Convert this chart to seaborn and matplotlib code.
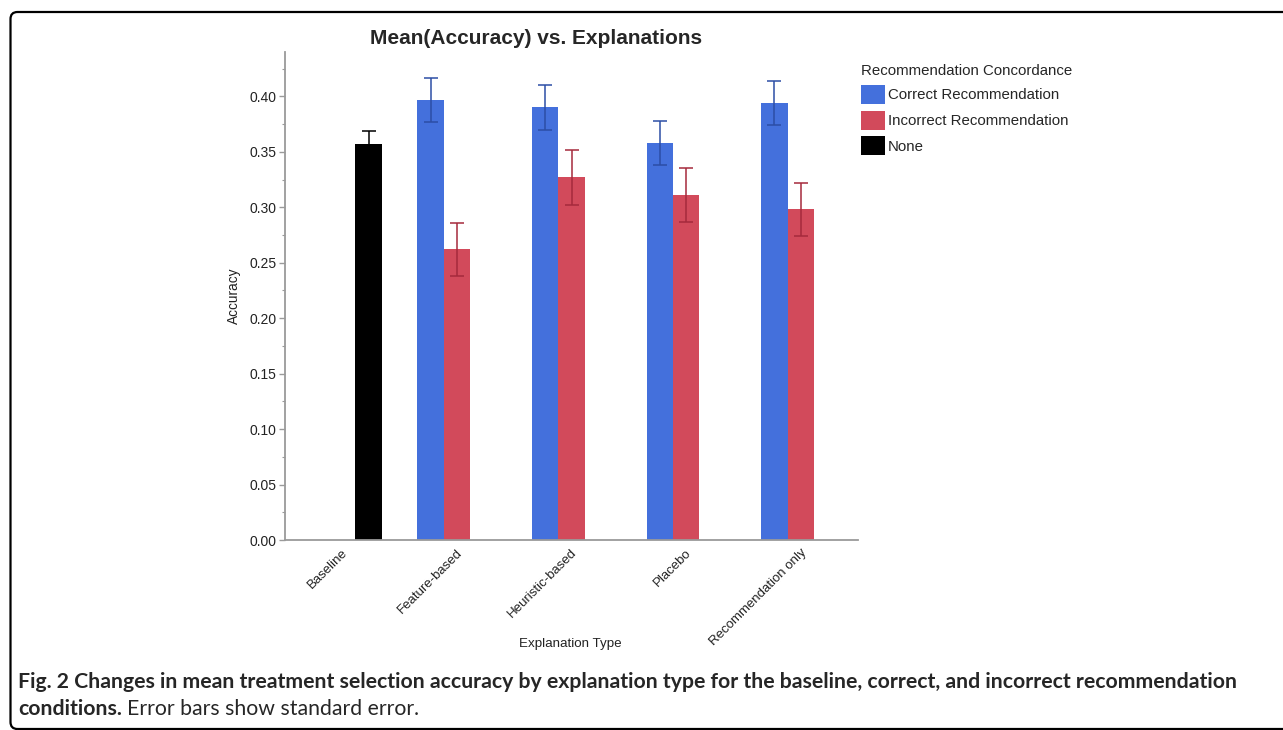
import pandas as pd
import seaborn as sns
import matplotlib.pyplot as plt
from matplotlib.patches import Patch, FancyBboxPatch
from matplotlib.ticker import MultipleLocator
from matplotlib.transforms import ScaledTranslation

# Data
explanation_types = ["Baseline", "Feature-based", "Heuristic-based", "Placebo", "Recommendation only"]
concordance_levels = ["Correct Recommendation", "Incorrect Recommendation", "None"]

bar_explanation = ["Baseline",
                   "Feature-based", "Feature-based",
                   "Heuristic-based", "Heuristic-based",
                   "Placebo", "Placebo",
                   "Recommendation only", "Recommendation only"]
bar_concordance = ["None",
                   "Correct Recommendation", "Incorrect Recommendation",
                   "Correct Recommendation", "Incorrect Recommendation",
                   "Correct Recommendation", "Incorrect Recommendation",
                   "Correct Recommendation", "Incorrect Recommendation"]
mean_accuracy = [0.357, 0.397, 0.262, 0.390, 0.327, 0.358, 0.311, 0.394, 0.298]
std_error = [0.012, 0.020, 0.024, 0.020, 0.025, 0.020, 0.024, 0.020, 0.024]

bar_colors = {"Correct Recommendation": "#4470dc",
              "Incorrect Recommendation": "#d24a5b",
              "None": "#000000"}
err_colors = {"Correct Recommendation": "#2c4ea6",
              "Incorrect Recommendation": "#a52a3c",
              "None": "#000000"}

df = pd.DataFrame({"Explanation Type": bar_explanation,
                   "Recommendation Concordance": bar_concordance,
                   "Accuracy": mean_accuracy,
                   "SE": std_error})

sns.set_style("ticks")
plt.rcParams['font.family'] = ['Liberation Sans', 'DejaVu Sans']

W, H = 1283, 730
fig = plt.figure(figsize=(W / 100, H / 100), dpi=100)
ax = fig.add_axes([285 / W, 1 - 540 / H, (858 - 285) / W, (540 - 52) / H])

sns.barplot(data=df, x="Explanation Type", y="Accuracy",
            hue="Recommendation Concordance",
            order=explanation_types, hue_order=concordance_levels,
            palette=bar_colors, saturation=1, width=0.69, dodge=True,
            errorbar=None, legend=False, linewidth=0, ax=ax)

# standard error bars on top of the seaborn bars
for container, level in zip(ax.containers, concordance_levels):
    for bar in container:
        h = bar.get_height()
        if pd.isna(h):
            continue
        xc = bar.get_x() + bar.get_width() / 2
        cat = explanation_types[int(round(xc))]
        row = df[(df["Explanation Type"] == cat) & (df["Recommendation Concordance"] == level)]
        se = row["SE"].iloc[0]
        ax.errorbar(xc, h, yerr=se, fmt='none', ecolor=err_colors[level],
                    elinewidth=1.1, capsize=4.8, capthick=1.1, zorder=5)

ax.set_xlim(-0.5, 4.5)
ax.set_ylim(0, 0.44)
ax.yaxis.set_major_locator(MultipleLocator(0.05))
ax.yaxis.set_minor_locator(MultipleLocator(0.025))
ax.yaxis.set_major_formatter(plt.FormatStrFormatter('%.2f'))

for side in ["top", "right"]:
    ax.spines[side].set_visible(False)
for side in ["left", "bottom"]:
    ax.spines[side].set_color("#9a9a9a")
    ax.spines[side].set_linewidth(1.3)

ax.tick_params(axis='y', which='major', length=4, width=1, color="#9a9a9a",
               labelsize=10, labelcolor="#222222", pad=2)
ax.tick_params(axis='y', which='minor', length=2.5, width=0.8, color="#9a9a9a")
ax.tick_params(axis='x', length=0, labelsize=9.5, labelcolor="#222222", pad=5)

ax.set_xticks(range(len(explanation_types)))
ax.set_xticklabels(explanation_types, rotation=45, ha='right')
for lbl in ax.get_xticklabels():
    lbl.set_transform(lbl.get_transform() + ScaledTranslation(0.08, 0, fig.dpi_scale_trans))

ax.set_ylabel("Accuracy", fontsize=9.8, color="#222222", labelpad=6)
ax.set_xlabel("")
fig.text(570 / W, 1 - 644 / H, "Explanation Type", fontsize=9.6, color="#222222",
         ha='center', va='center')

fig.text(536 / W, 1 - 38 / H, "Mean(Accuracy) vs. Explanations", fontsize=15,
         fontweight='bold', ha='center', va='center')

handles = [Patch(facecolor=bar_colors[k], edgecolor='none') for k in concordance_levels]
fig.legend(handles, concordance_levels, title="Recommendation Concordance",
           loc='upper left', bbox_to_anchor=(861 / W, 1 - 64 / H),
           frameon=False, fontsize=10.8, title_fontsize=10.8, alignment='left',
           handlelength=1.6, handleheight=1.6, handletextpad=0.2,
           labelspacing=0.42, borderpad=0, borderaxespad=0)
leg = fig.legends[0]
leg._legend_box.sep = 5

# caption under the chart
cap_font = ['Lato', 'DejaVu Sans']
line1 = ("Fig. 2 Changes in mean treatment selection accuracy by explanation type "
         "for the baseline, correct, and incorrect recommendation")
t1 = fig.text(18 / W, 1 - 682 / H, line1, fontsize=13, fontweight='bold',
              family=cap_font, ha='left', va='center')
fig.canvas.draw()
w1 = t1.get_window_extent().width
t1.set_fontsize(13 * (1222 / w1))
fs = t1.get_fontsize()
t2 = fig.text(18 / W, 1 - 709 / H, "conditions.", fontsize=fs, fontweight='bold',
              family=cap_font, ha='left', va='center')
fig.canvas.draw()
x2 = t2.get_window_extent().x1
fig.text((x2 + 5) / W, 1 - 709 / H, "Error bars show standard error.", fontsize=fs,
         family=cap_font, ha='left', va='center')

# rounded frame around the figure panel
frame = FancyBboxPatch((0.105, 0.01), 13.0, 7.17,
                       boxstyle="round,pad=0,rounding_size=0.07",
                       transform=fig.dpi_scale_trans, fill=False,
                       edgecolor='black', linewidth=1.6)
fig.add_artist(frame)

fig.savefig("out.png", dpi=100)
